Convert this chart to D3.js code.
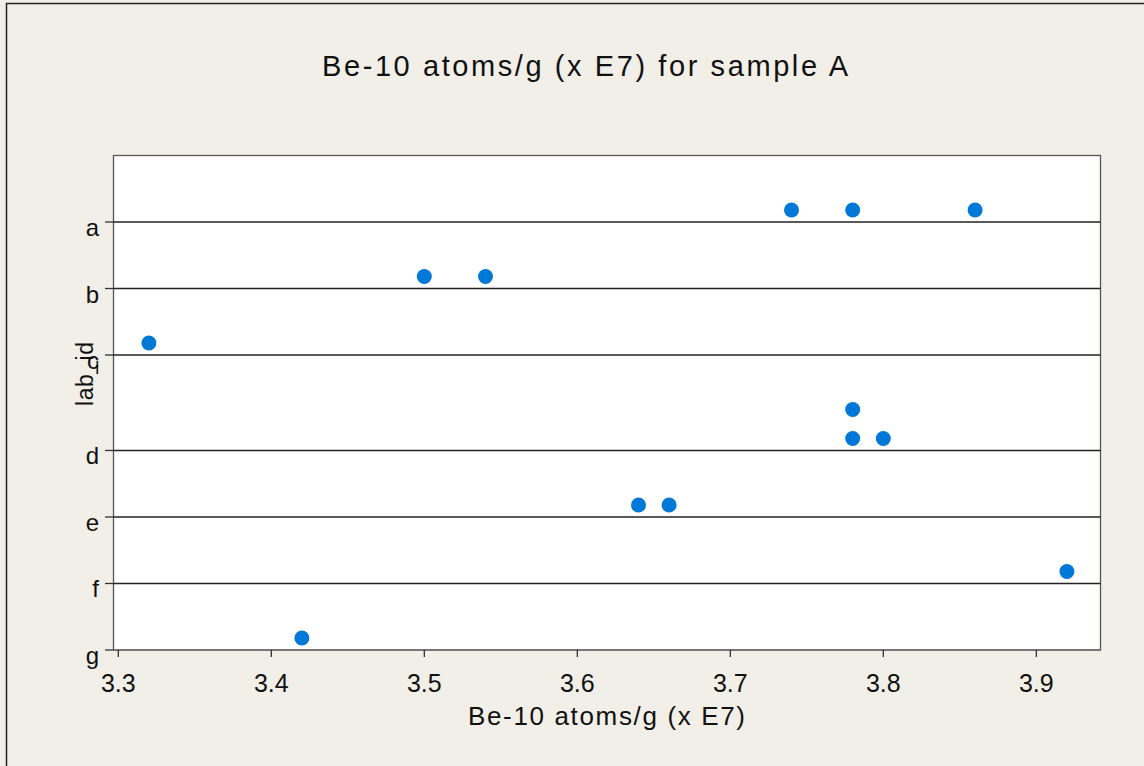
<!DOCTYPE html>
<html>
<head>
<meta charset="utf-8">
<script src="https://cdn.jsdelivr.net/npm/d3@7"></script>
<style>
  html, body { margin: 0; padding: 0; background: #f2efe8; }
  svg { display: block; }
  text { font-family: "Liberation Sans", Arial, sans-serif; fill: #111; }
</style>
</head>
<body>
<div id="vis"></div>
<script>
// values, one array per lab
var labIds = ["a", "b", "c", "d", "e", "f", "g"];
var labA = [3.74, 3.78, 3.86];
var labB = [3.50, 3.54];
var labC = [3.32];
var labD = [3.78, 3.78, 3.80];
var labE = [3.64, 3.66];
var labF = [3.92];
var labG = [3.42];
var xTicks = [3.3, 3.4, 3.5, 3.6, 3.7, 3.8, 3.9];

var labValues = [labA, labB, labC, labD, labE, labF, labG];

var width = 1144, height = 766;
var plot = { left: 113.5, top: 155.5, right: 1100.5, bottom: 650 };

var svg = d3.select("#vis").append("svg")
  .attr("width", width)
  .attr("height", height);

// outer frame (right and bottom edges fall outside the window)
svg.append("rect")
  .attr("x", 6.5).attr("y", 3.5)
  .attr("width", 1200).attr("height", 900)
  .attr("fill", "#f2efe8")
  .attr("stroke", "#222").attr("stroke-width", 1.5);

// plot area
svg.append("rect")
  .attr("x", plot.left).attr("y", plot.top)
  .attr("width", plot.right - plot.left)
  .attr("height", plot.bottom - plot.top)
  .attr("fill", "#fff")
  .attr("stroke", "#555").attr("stroke-width", 1.3);

var x = d3.scaleLinear().domain([3.3, 3.9]).range([118.3, 1036.3]);

// stack identical values within a row, like a Minitab dot plot
var points = [];
var rowUnits = [];
var stackStep = 0.435; // row units per extra stacked dot
labValues.forEach(function (vals, i) {
  var seen = {};
  var maxStack = 1;
  vals.forEach(function (v) {
    var k = seen[v] || 0;
    seen[v] = k + 1;
    maxStack = Math.max(maxStack, k + 1);
    points.push({ lab: labIds[i], row: i, value: v, stack: k });
  });
  rowUnits.push(1 + stackStep * (maxStack - 1));
});
var rowEnds = Array.from(d3.cumsum(rowUnits));

var y = d3.scaleLinear()
  .domain([0, d3.sum(rowUnits)])
  .range([plot.top, plot.bottom]);

// row lines
svg.append("g").selectAll("line")
  .data(rowEnds.slice(0, -1))
  .enter().append("line")
  .attr("x1", plot.left).attr("x2", plot.right)
  .attr("y1", function (d) { return y(d); })
  .attr("y2", function (d) { return y(d); })
  .attr("stroke", "#222").attr("stroke-width", 1.5);

// y ticks and labels
var yAxis = svg.append("g");
yAxis.selectAll("line")
  .data(rowEnds)
  .enter().append("line")
  .attr("x1", 105).attr("x2", plot.left)
  .attr("y1", function (d) { return y(d); })
  .attr("y2", function (d) { return y(d); })
  .attr("stroke", "#333").attr("stroke-width", 1.3);
yAxis.selectAll("text")
  .data(labIds)
  .enter().append("text")
  .attr("x", 99)
  .attr("y", function (d, i) { return y(rowEnds[i]) + 14; })
  .attr("text-anchor", "end")
  .style("font-size", "24px")
  .text(function (d) { return d; });

// bottom axis
var xAxis = svg.append("g");
xAxis.append("line")
  .attr("x1", plot.left).attr("x2", plot.right)
  .attr("y1", plot.bottom).attr("y2", plot.bottom)
  .attr("stroke", "#777").attr("stroke-width", 2);
xAxis.selectAll("line.tick")
  .data(xTicks)
  .enter().append("line")
  .attr("class", "tick")
  .attr("x1", function (d) { return x(d); })
  .attr("x2", function (d) { return x(d); })
  .attr("y1", plot.bottom).attr("y2", plot.bottom + 7)
  .attr("stroke", "#222").attr("stroke-width", 1.2);
xAxis.selectAll("text")
  .data(xTicks)
  .enter().append("text")
  .attr("x", function (d) { return x(d); })
  .attr("y", 692)
  .attr("text-anchor", "middle")
  .style("font-size", "25px")
  .text(function (d) { return d3.format(".1f")(d); });

// dots
svg.append("g").selectAll("circle")
  .data(points)
  .enter().append("circle")
  .attr("cx", function (d) { return x(d.value); })
  .attr("cy", function (d) { return y(rowEnds[d.row] - 0.18 - stackStep * d.stack); })
  .attr("r", 7.5)
  .attr("fill", "#0078d7");

// titles
svg.append("text")
  .attr("x", 322).attr("y", 76)
  .attr("textLength", 526).attr("lengthAdjust", "spacing")
  .style("font-size", "29px")
  .text("Be-10 atoms/g (x E7) for sample A");

svg.append("text")
  .attr("x", 468).attr("y", 725)
  .attr("textLength", 277).attr("lengthAdjust", "spacing")
  .style("font-size", "26px")
  .text("Be-10 atoms/g (x E7)");

svg.append("text")
  .attr("transform", "translate(93, 374) rotate(-90)")
  .attr("text-anchor", "middle")
  .attr("textLength", 64).attr("lengthAdjust", "spacing")
  .style("font-size", "23px")
  .text("lab_id");
</script>
</body>
</html>
